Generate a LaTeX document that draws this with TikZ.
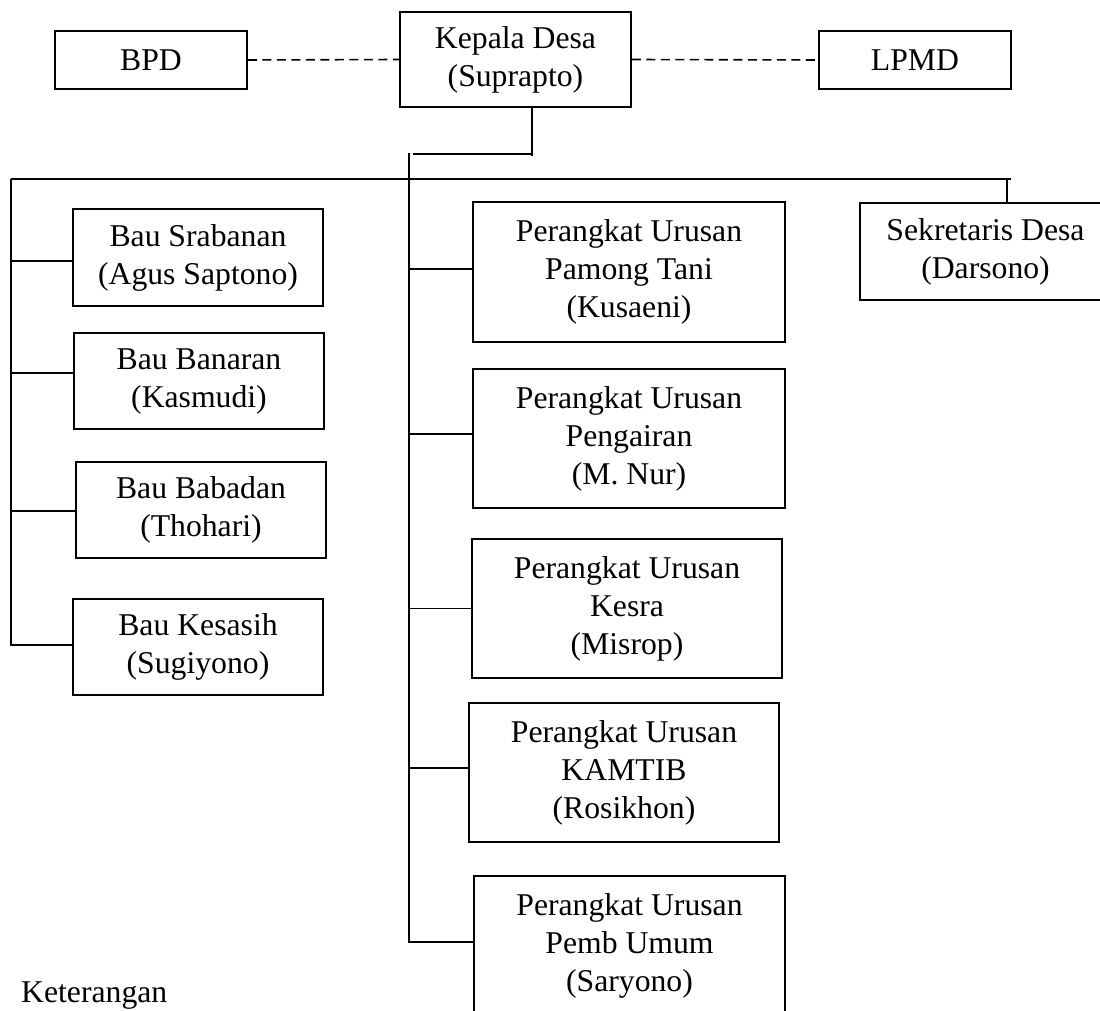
\documentclass[tikz,border=0pt]{standalone}
\usepackage{fontspec}
\setmainfont{Liberation Serif}
\begin{document}
\begin{tikzpicture}[x=1pt,y=-1pt,
  box/.style={draw, line width=1.9pt, inner sep=0pt, align=center,
    font=\fontsize{31.7}{38}\selectfont},
  conn/.style={line width=1.7pt},
  dashconn/.style={line width=1.6pt, dash pattern=on 9pt off 5.5pt},
  lbl/.style={inner sep=0pt, font=\fontsize{31.7}{38}\selectfont}]
\useasboundingbox (0,0) rectangle (1100,1011);
\clip (0,0) rectangle (1100,1011);

% top row
\node[box, minimum width=192pt, minimum height=58pt] (bpd) at (151,60) {BPD};
\node[box, minimum width=231pt, minimum height=95pt] (kep) at (515.5,59.5) {Kepala Desa\\(Suprapto)};
\node[box, minimum width=192pt, minimum height=58pt] (lpmd) at (915,60) {LPMD};
\draw[dashconn] (bpd.east) -- (kep.west);
\draw[dashconn] (kep.east) -- (lpmd.west);

% left column
\node[box, minimum width=250pt, minimum height=97pt] (b1) at (198,257.5) {Bau Srabanan\\(Agus Saptono)};
\node[box, minimum width=250pt, minimum height=96pt] (b2) at (199,381) {Bau Banaran\\(Kasmudi)};
\node[box, minimum width=250pt, minimum height=96pt] (b3) at (201,510) {Bau Babadan\\(Thohari)};
\node[box, minimum width=250pt, minimum height=96pt] (b4) at (198,647) {Bau Kesasih\\(Sugiyono)};

% middle column
\node[box, minimum width=312pt, minimum height=140pt] (p1) at (629,272) {Perangkat Urusan\\Pamong Tani\\(Kusaeni)};
\node[box, minimum width=312pt, minimum height=139pt] (p2) at (629,438.5) {Perangkat Urusan\\Pengairan\\(M. Nur)};
\node[box, minimum width=310pt, minimum height=139pt] (p3) at (627,608.5) {Perangkat Urusan\\Kesra\\(Misrop)};
\node[box, minimum width=310pt, minimum height=139pt] (p4) at (624,772.5) {Perangkat Urusan\\KAMTIB\\(Rosikhon)};
\node[box, minimum width=311pt, minimum height=140pt] (p5) at (629.5,946) {Perangkat Urusan\\Pemb Umum\\(Saryono)};

% right
\node[box, minimum width=251pt, minimum height=97pt] (sek) at (985.5,251.5) {Sekretaris Desa\\(Darsono)};

% trunk coordinates
\coordinate (kd) at (532,156);
\coordinate (kh) at (413,154);
\coordinate (mt) at (409,153);
\coordinate (mb) at (409,943);
\coordinate (lt) at (11,179);
\coordinate (lb) at (11,646);
\coordinate (hr) at (1011,179);
\coordinate (sd) at (1007,179);

\draw[conn] (kep.south -| kd) -- (kd);
\draw[conn] (kh) -- (kh -| kd);
\draw[conn] (mt) -- (mb);
\draw[conn] (lt) -- (hr);
\draw[conn] (lt) -- (lb);
\draw[conn] (sd) -- (sd |- sek.north);

\foreach \n/\s in {b1/-3.5pt,b2/8pt,b3/-1pt,b4/2pt}{
  \path ([yshift=\s]\n.west) coordinate (c);
  \draw[conn] (c) -- (c -| lt);
}
\foreach \n/\s in {p1/3pt,p2/4.5pt,p3/0pt,p4/4.5pt,p5/4pt}{
  \path ([yshift=\s]\n.west) coordinate (c);
  \draw[conn] (c) -- (c -| mt);
}

\node[lbl, anchor=base west] (ket) at (21,1002) {Keterangan};
\end{tikzpicture}
\end{document}
